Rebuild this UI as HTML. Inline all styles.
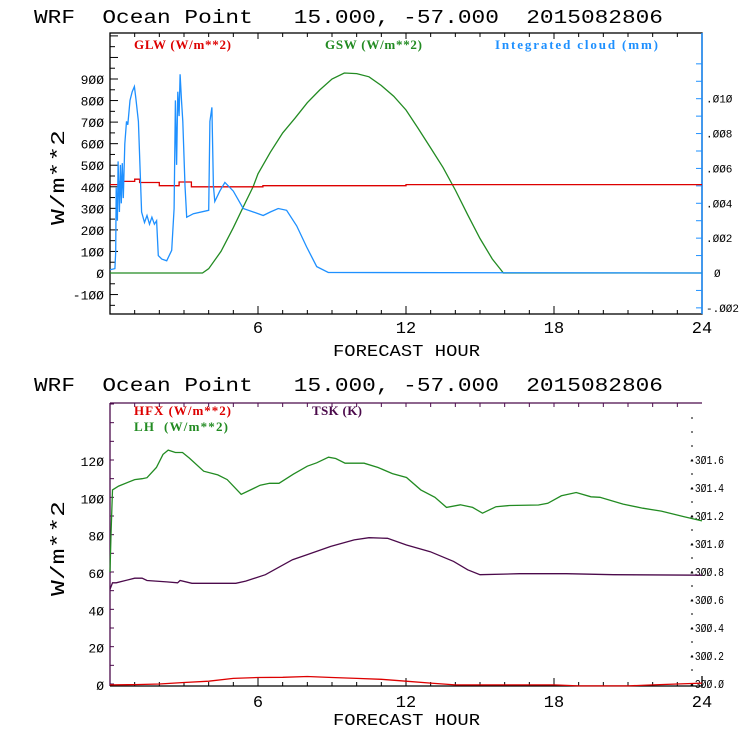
<!DOCTYPE html>
<html><head><meta charset="utf-8"><style>
body{margin:0;background:#fff;width:740px;height:740px;overflow:hidden}
svg{display:block}
.t{font-family:"Liberation Mono",monospace}
.lg{font-family:"Liberation Serif",serif;font-weight:bold;font-size:13px}
</style></head><body>
<svg id="chart" width="740" height="740" xmlns="http://www.w3.org/2000/svg"></svg>
<script>
// ---------- TOP PANEL DATA ----------
const gswHours=[0,3.75,4,4.5,5,5.5,5.8,6,6.5,7,7.5,8,8.5,9,9.5,10,10.5,11,11.5,12,12.5,13,13.5,14,14.5,15,15.5,15.95,24];
const gswValues=[0,0,20,100,210,330,400,460,560,650,718,790,849,900,928,925,910,870,820,756,670,580,490,385,270,160,65,0,0];
const glwHours=[0,0.4,0.4,1.0,1.0,1.2,1.2,2.0,2.0,2.8,2.8,3.3,3.3,6.2,6.2,12,12,24];
const glwValues=[410,410,425,425,435,435,420,420,405,405,422,422,400,400,405,405,410,410];
const cloudHours=[0,0.2,0.23,0.25,0.3,0.33,0.38,0.42,0.46,0.5,0.54,0.6,0.67,0.72,0.81,0.9,0.99,1.05,1.15,1.28,1.4,1.5,1.6,1.7,1.8,1.89,1.96,2.1,2.3,2.5,2.6,2.65,2.7,2.75,2.8,2.84,2.9,2.95,3.04,3.11,3.38,4.0,4.05,4.13,4.19,4.25,4.45,4.66,5.0,5.4,5.81,6.21,6.5,6.82,7.16,7.57,7.97,8.38,8.85,24];
const cloudMm=[0.00019,0.00025,0.0012,0.0049,0.0030,0.0064,0.0035,0.0062,0.0040,0.0063,0.0043,0.0074,0.0087,0.0085,0.0099,0.0104,0.0107,0.0100,0.0087,0.0035,0.0029,0.0033,0.0028,0.0032,0.0028,0.0030,0.0010,0.0008,0.0007,0.0013,0.0037,0.0099,0.0062,0.0104,0.0090,0.0114,0.0099,0.0087,0.0050,0.0032,0.0034,0.0036,0.0087,0.0095,0.0050,0.0041,0.0047,0.0052,0.0047,0.0037,0.0035,0.0033,0.0035,0.0037,0.0036,0.0027,0.0015,0.00037,0.00003,0];
const topLeftTicks=[-100,0,100,200,300,400,500,600,700,800,900];
const topRightTicks=[-0.002,0,0.002,0.004,0.006,0.008,0.010];
const topRightLabels=["-.002","0",".002",".004",".006",".008",".010"];
const xTicks=[6,12,18,24];
// ---------- BOTTOM PANEL DATA ----------
const lhHours=[0,0.04,0.1,0.35,1.0,1.3,1.5,1.88,2.15,2.36,2.65,2.94,3.22,3.8,4.37,4.75,5.32,5.7,6.09,6.47,6.85,7.43,8.0,8.38,8.86,9.15,9.53,10.3,10.87,11.45,12.02,12.6,13.17,13.64,14.2,14.7,15.1,15.65,16.2,17.37,17.75,18.3,18.9,19.5,19.86,20.8,21.6,22.35,23.3,24];
const lhValues=[60,80,104,106,109.5,110,110.5,116,123,125.3,124,124,121,114,112,109.5,101.6,104,106.5,107.5,107.5,112.4,116.7,118.5,121.5,120.8,118.3,118.3,116,112.7,110.6,104,100,94.6,96,94.6,91.5,95,95.6,95.9,96.8,100.8,102.6,100.3,100,96.4,94.2,92.6,89.5,87.4];
const tskHours=[0,0.1,0.25,1.0,1.3,1.5,2.3,2.74,2.84,3.32,3.8,5.1,5.5,6.3,7.4,8.0,8.95,9.9,10.5,11.25,12.02,12.98,13.93,14.5,15.0,16.6,18.5,20.4,24];
const tskValues=[300.676,300.723,300.723,300.756,300.756,300.739,300.729,300.723,300.739,300.719,300.719,300.719,300.735,300.781,300.888,300.924,300.983,301.029,301.045,301.041,300.993,300.945,300.876,300.816,300.781,300.788,300.788,300.781,300.777];
const hfxHours=[0,1,2,3,4,5,6,7,8,9,10,11,12,13,14,16,18,19,21,22,23,24];
const hfxValues=[-0.5,-0.3,0,0.8,1.5,3,3.5,3.6,4,3.5,3,2.5,1.5,0.5,-0.5,-0.5,-0.5,-1,-1,-0.5,0,0.5];
const botLeftTicks=[0,20,40,60,80,100,120];
const botRightTicks=[300.0,300.2,300.4,300.6,300.8,301.0,301.2,301.4,301.6];
const botRightLabels=["300.0","300.2","300.4","300.6","300.8","301.0","301.2","301.4","301.6"];

const NS="http://www.w3.org/2000/svg";
const svg=document.getElementById('chart');
function mk(tag,attrs,parent){const e=document.createElementNS(NS,tag);for(const k in attrs)e.setAttribute(k,attrs[k]);(parent||svg).appendChild(e);return e;}
function txt(s,attrs,parent){const e=mk('text',attrs,parent);e.textContent=s;return e;}
const X0=110,X1=702;
const xs=h=>X0+h*(X1-X0)/24;
const yT=v=>273-v*(194/900);
const yTR=v=>273-v*(174.3/0.010);
const yB=v=>684-v*(224/120);
const yBR=v=>684-(v-300)*(224/1.6);
function path(hs,vs,ys,color,name){const d=hs.map((h,i)=>(i?'L':'M')+xs(h).toFixed(1)+','+ys(vs[i]).toFixed(1)).join('');const p=mk('path',{d:d,fill:'none',stroke:color,'stroke-width':1.3});


return p;}
function titleAt(y,name){const t=txt('WRF  Ocean Point   15.000, -57.000  2015082806',{x:34,y:y,class:'t','font-size':19,textLength:629,lengthAdjust:'spacingAndGlyphs','xml:space':'preserve',style:'white-space:pre'});

}

// ===== TOP PANEL =====
titleAt(23,'top-title');
const g1=mk('g',{});


mk('rect',{x:X0,y:33,width:X1-X0,height:281,fill:'none',stroke:'#000','stroke-width':1.3},g1);
mk('line',{x1:X1,y1:33,x2:X1,y2:314,stroke:'#1e90ff','stroke-width':1.5},g1);
for(let v=-150;v<=1100;v+=50){const y=yT(v);if(y<34||y>313)continue;mk('line',{x1:X0,y1:y,x2:X0+(v%100===0?8:5),y2:y,stroke:'#000'},g1);}
topLeftTicks.forEach(v=>{const t=txt(String(v).replace(/0/g,'Ø'),{x:104,y:yT(v)+5,'text-anchor':'end',class:'t','font-size':13},g1);

});
for(let v=-0.003;v<=0.0125;v+=0.001){const y=yTR(v);if(y<34||y>313)continue;mk('line',{x1:X1,y1:y,x2:X1-6,y2:y,stroke:'#1e90ff'},g1);}
topRightTicks.forEach((v,i)=>{const t=txt(topRightLabels[i].replace(/0/g,'Ø'),{x:i==1?714:706,y:yTR(v)+4,class:'t','font-size':11},g1);

});
for(let h=1;h<24;h++){mk('line',{x1:xs(h),y1:314,x2:xs(h),y2:314-(h%6===0?8:4),stroke:'#000'},g1);mk('line',{x1:xs(h),y1:33,x2:xs(h),y2:33+(h%6===0?6:4),stroke:'#000'},g1);}
xTicks.forEach(h=>{const t=txt(String(h),{x:xs(h),y:333,'text-anchor':'middle',class:'t','font-size':17},g1);

});
let a=txt('FORECAST HOUR',{x:333,y:356,class:'t','font-size':17,textLength:147,lengthAdjust:'spacingAndGlyphs'},g1);


a=txt('W/m**2',{x:0,y:0,transform:'translate(64,225) rotate(-90)',class:'t','font-size':19,textLength:95,lengthAdjust:'spacingAndGlyphs'},g1);


path(gswHours,gswValues,yT,'#228b22','gsw-line');
path(glwHours,glwValues,yT,'#dd0000','glw-line');
path(cloudHours,cloudMm,yTR,'#1e90ff','cloud-line');
[['GLW (W/m**2)',134,'#dd0000','legend-glw',97],['GSW (W/m**2)',325,'#228b22','legend-gsw',97],['Integrated cloud (mm)',495,'#1e90ff','legend-cloud',163]].forEach(l=>{const t=txt(l[0],{x:l[1],y:49,fill:l[2],class:'lg',textLength:l[4]},g1);

});

// ===== BOTTOM PANEL =====
titleAt(391,'bottom-title');
const g2=mk('g',{});


mk('line',{x1:X0,y1:403,x2:X1,y2:403,stroke:'#4b0a4b','stroke-width':1.3},g2);
mk('line',{x1:X0,y1:403,x2:X0,y2:686,stroke:'#4b0a4b','stroke-width':1.3},g2);
mk('line',{x1:X0,y1:686,x2:X1,y2:686,stroke:'#000','stroke-width':1.3},g2);
mk('line',{x1:X1,y1:676,x2:X1,y2:686,stroke:'#000','stroke-width':1.3},g2);
for(let v=0;v<=150;v+=10){const y=yB(v);if(y<404)continue;mk('line',{x1:X0,y1:y,x2:X0+4,y2:y,stroke:'#4b0a4b'},g2);}
botLeftTicks.forEach(v=>{const t=txt(String(v).replace(/0/g,'Ø'),{x:104,y:yB(v)+6,'text-anchor':'end',class:'t','font-size':13},g2);

});
for(let v=300;v<=301.95;v+=0.1){const y=yBR(v);if(y<410)continue;mk('line',{x1:691,y1:y,x2:693,y2:y,stroke:'#000'},g2);}
botRightTicks.forEach((v,i)=>{const t=txt('-'+botRightLabels[i].replace(/0/g,'Ø'),{x:689,y:yBR(v)+4,class:'t','font-size':12,textLength:35,lengthAdjust:'spacingAndGlyphs'},g2);

});
for(let h=1;h<24;h++){mk('line',{x1:xs(h),y1:686,x2:xs(h),y2:686-(h%6===0?8:4),stroke:'#000'},g2);mk('line',{x1:xs(h),y1:403,x2:xs(h),y2:403+4,stroke:'#4b0a4b'},g2);}
xTicks.forEach(h=>{const t=txt(String(h),{x:xs(h),y:707,'text-anchor':'middle',class:'t','font-size':17},g2);

});
a=txt('FORECAST HOUR',{x:333,y:725,class:'t','font-size':17,textLength:147,lengthAdjust:'spacingAndGlyphs'},g2);


a=txt('W/m**2',{x:0,y:0,transform:'translate(64,596) rotate(-90)',class:'t','font-size':19,textLength:95,lengthAdjust:'spacingAndGlyphs'},g2);


path(lhHours,lhValues,yB,'#228b22','lh-line');
path(tskHours,tskValues,yBR,'#4b0a4b','tsk-line');
path(hfxHours,hfxValues,yB,'#dd0000','hfx-line');
[['HFX (W/m**2)',134,415,'#dd0000','legend-hfx',97],['LH  (W/m**2)',134,431,'#228b22','legend-lh',94],['TSK (K)',312,415,'#4b0a4b','legend-tsk',50]].forEach(l=>{const t=txt(l[0],{x:l[1],y:l[2],fill:l[3],class:'lg',textLength:l[5],'xml:space':'preserve',style:'white-space:pre'},g2);

});
</script>
</body></html>
